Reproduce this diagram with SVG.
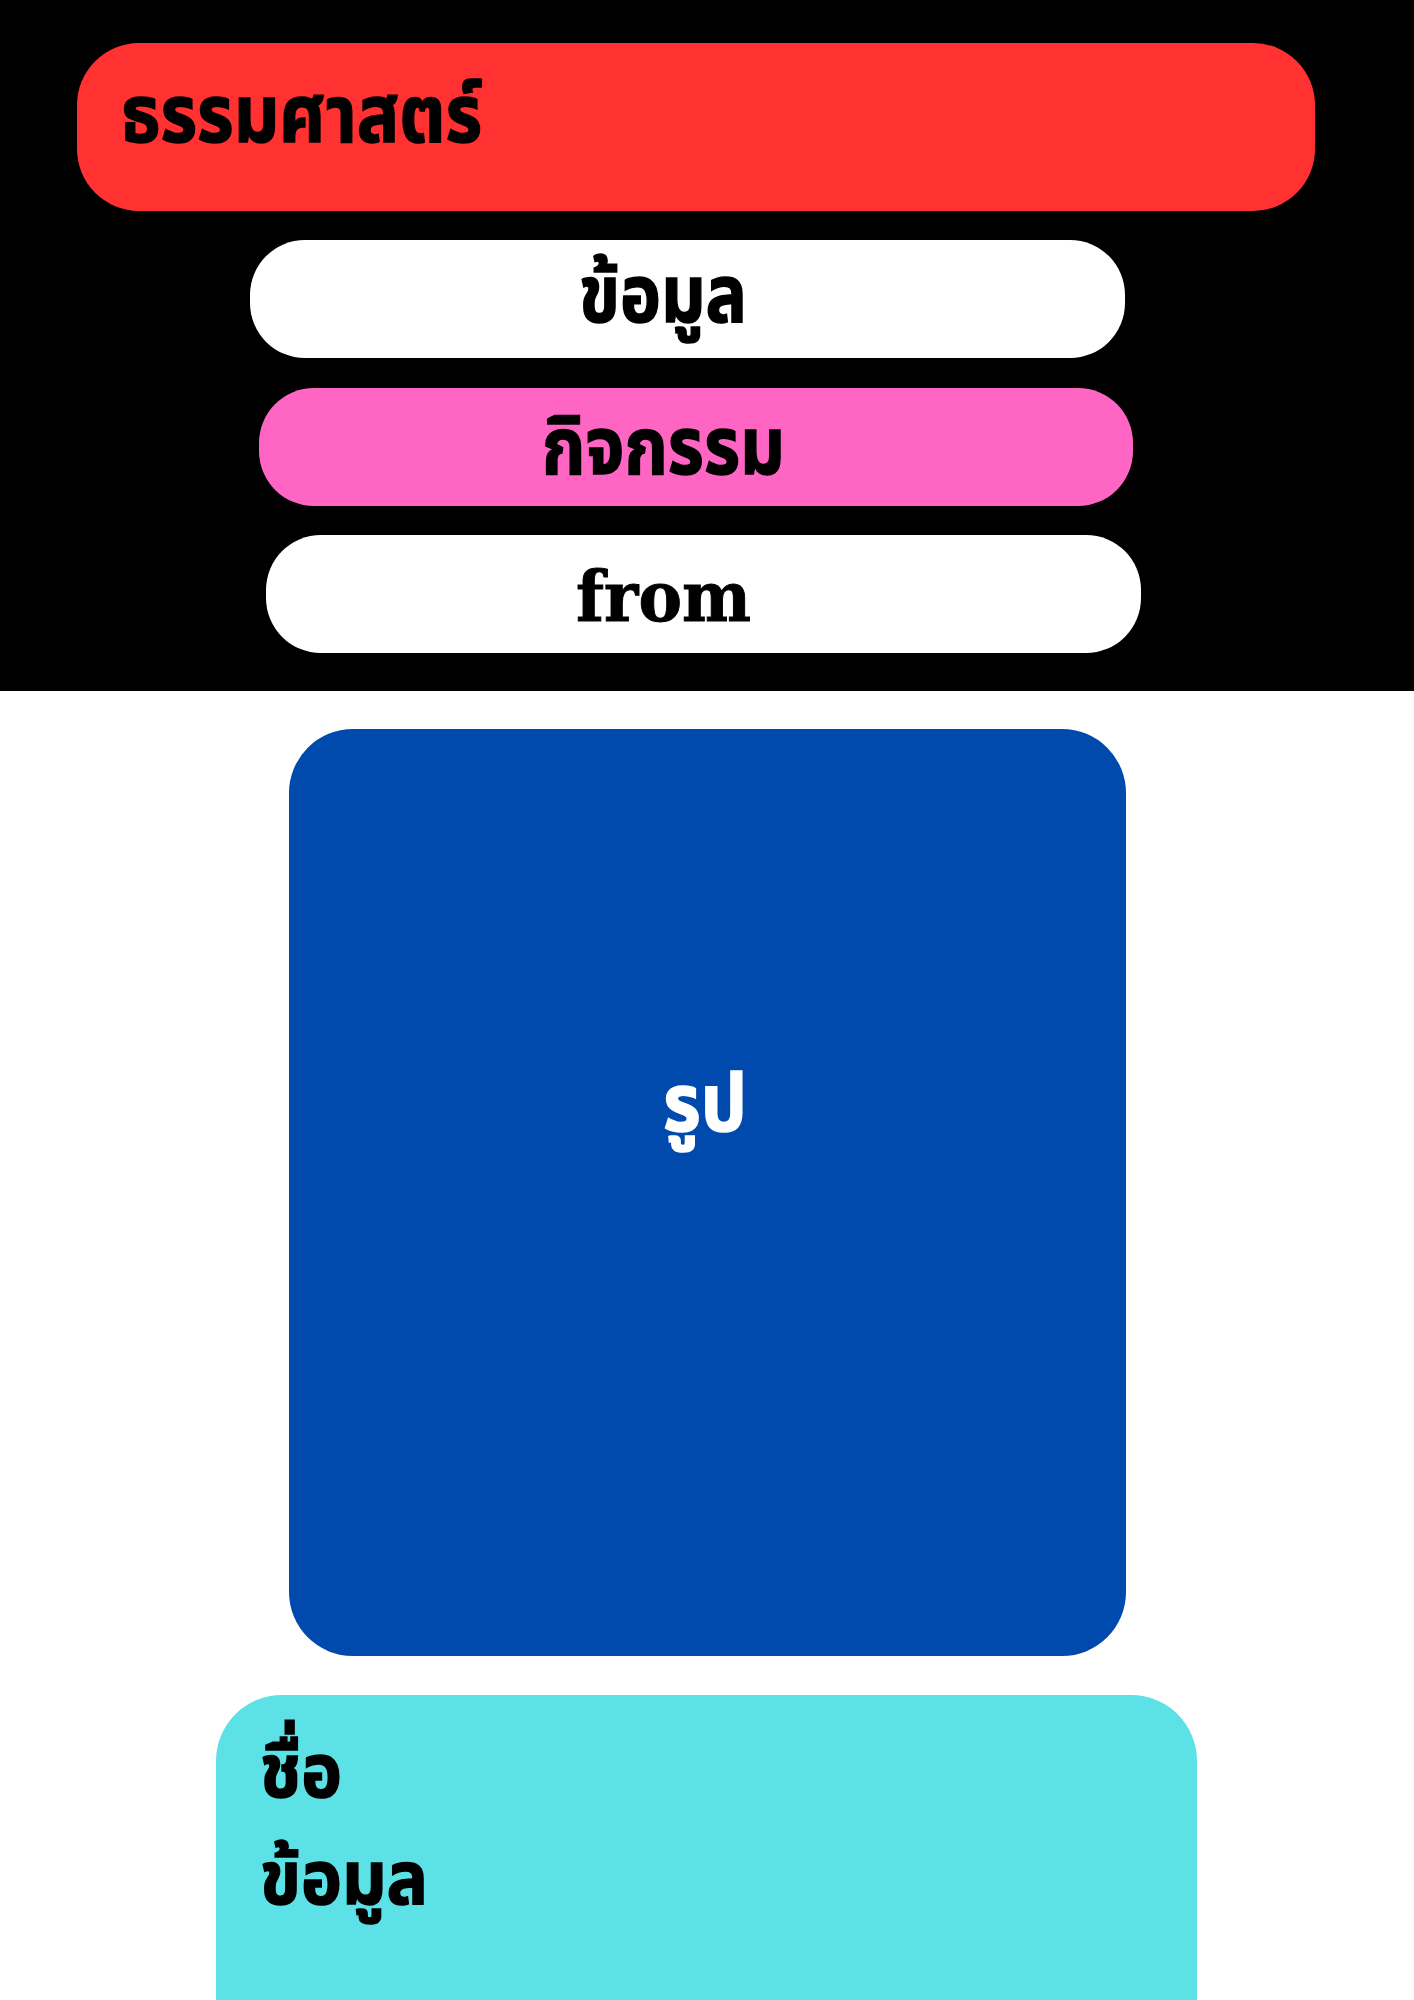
<svg xmlns="http://www.w3.org/2000/svg" width="1414" height="2000" viewBox="0 0 1414 2000">
<style>
.th{font-family:"Noto Sans Thai","Noto Sans","Liberation Sans",sans-serif;font-weight:700;font-size:80px;fill:#000;stroke:#000;stroke-width:1.5px}
.sm{font-size:74px}
.wt{fill:#ffffff;stroke:#ffffff}
.en{font-family:"DejaVu Serif","Liberation Serif",serif;font-weight:700;font-size:70px;fill:#000;stroke:#000;stroke-width:1px}
</style>
<rect x="0" y="0" width="1414" height="2000" fill="#ffffff"/>
<rect x="0" y="0" width="1414" height="691" fill="#000000"/>
<g id="title">
<rect x="77" y="43" width="1238" height="168" rx="62" fill="#FF3131"/>
<text class="th" x="121" y="142" textLength="361" lengthAdjust="spacingAndGlyphs">ธรรมศาสตร์</text>
</g>
<g id="info">
<rect x="250" y="240" width="875" height="118" rx="55" fill="#ffffff"/>
<text class="th" x="579" y="322" textLength="168" lengthAdjust="spacingAndGlyphs">ข้อมูล</text>
</g>
<g id="activity">
<rect x="259" y="388" width="874" height="118" rx="55" fill="#FF66C4"/>
<text class="th" x="542" y="474" textLength="243" lengthAdjust="spacingAndGlyphs">กิจกรรม</text>
</g>
<g id="from">
<rect x="266" y="535" width="875" height="118" rx="55" fill="#ffffff"/>
<text class="en" x="576" y="621" textLength="175" lengthAdjust="spacingAndGlyphs">from</text>
</g>
<g id="picture">
<rect x="289" y="729" width="837" height="927" rx="64" fill="#004AAD"/>
<text class="th wt" x="663" y="1131" textLength="84" lengthAdjust="spacingAndGlyphs">รูป</text>
</g>
<g id="details">
<rect x="216" y="1695" width="981" height="400" rx="66" fill="#5CE1E6"/>
<text class="th sm" x="260" y="1797" textLength="82" lengthAdjust="spacingAndGlyphs">ชื่อ</text>
<text class="th sm" x="260" y="1904" textLength="168" lengthAdjust="spacingAndGlyphs">ข้อมูล</text>
</g>
<g id="connectors"></g>
</svg>
